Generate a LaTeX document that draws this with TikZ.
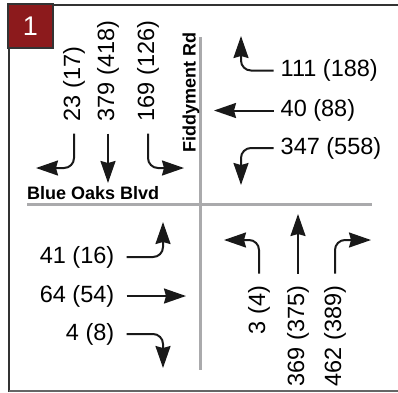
\documentclass[tikz,border=0pt]{standalone}
\usepackage{fontspec}
\setmainfont{Liberation Sans}
\usetikzlibrary{arrows.meta}
\definecolor{badgered}{RGB}{140,26,28}
\definecolor{framegray}{RGB}{51,51,51}
\definecolor{roadgray}{RGB}{170,170,172}

\begin{document}
\begin{tikzpicture}[x=1pt, y=-1pt,
	vol/.style={font=\fontsize{23.5}{25}\selectfont, inner sep=2pt},
	road/.style={font=\fontsize{18}{20}\selectfont\bfseries, inner sep=0pt},
	mv/.style={draw=black!90, line width=2pt, rounded corners=10pt, shorten <=10pt, -{Stealth[length=22pt, width=15pt, inset=2pt]}},
	curb/.style={draw=roadgray, line width=3pt}
	]
	\useasboundingbox (0,0) rectangle (398,392);
	% frame and badge
	\draw[framegray, line width=2.5pt] (53,5) -- (398,5);
	\draw[framegray, line width=2.5pt] (9,48) -- (9,392);
	\draw[black!60, line width=1.5pt] (9,391) -- (398,391);
	\node[fill=badgered, draw=framegray, line width=1.5pt, minimum width=45pt, minimum height=44pt, inner sep=0pt, text=white, font=\fontsize{27}{29}\selectfont] (badge) at (30.5,26) {1};
	% roads
	\draw[curb] (200,37) -- (200,370);
	\draw[curb] (27,204) -- (372,204);
	\node[road, rotate=90, anchor=east] (fiddyment) at (191,32) {Fiddyment Rd};
	\node[road, anchor=base west] (blueoaks) at (27,199) {Blue Oaks Blvd};
	% southbound
	\foreach \n/\x/\t in {23/74/{23 (17)}, 379/108/{379 (418)}, 169/148/{169 (126)}}
		\node[vol, rotate=90, anchor=west] (s\n) at (\x,123.5) {\t};
	\coordinate (s23tip) at (36,168);
	\coordinate (s379tip) at (108,183);
	\coordinate (s169tip) at (184,168);
	\draw[mv] (s23) |- (s23tip);
	\draw[mv] (s379) -- (s379tip);
	\draw[mv] (s169) |- (s169tip);
	% westbound
	\foreach \n/\y/\t in {111/70.5/{111 (188)}, 40/110.5/{40 (88)}, 347/148/{347 (558)}}
		\node[vol, anchor=west] (w\n) at (278.5,\y) {\t};
	\coordinate (w111tip) at (241,36);
	\coordinate (w40tip) at (214,110.5);
	\coordinate (w347tip) at (241,185);
	\draw[mv, shorten <=5pt] (w111) -| (w111tip);
	\draw[mv, shorten <=5pt] (w40) -- (w40tip);
	\draw[mv, shorten <=5pt] (w347) -| (w347tip);
	% eastbound
	\foreach \n/\y/\t in {41/257/{41 (16)}, 64/296/{64 (54)}, 4/334/{4 (8)}}
		\node[vol, anchor=east] (e\n) at (116.5,\y) {\t};
	\coordinate (e41tip) at (163,222);
	\coordinate (e64tip) at (186,296);
	\coordinate (e4tip) at (163,368);
	\draw[mv] (e41) -| (e41tip);
	\draw[mv] (e64) -- (e64tip);
	\draw[mv] (e4) -| (e4tip);
	% northbound
	\foreach \n/\x/\t in {3/259/{3 (4)}, 369/298/{369 (375)}, 462/335/{462 (389)}}
		\node[vol, rotate=90, anchor=east] (n\n) at (\x,283.5) {\t};
	\coordinate (n3tip) at (224,240);
	\coordinate (n369tip) at (298,214);
	\coordinate (n462tip) at (371,240);
	\draw[mv] (n3) |- (n3tip);
	\draw[mv] (n369) -- (n369tip);
	\draw[mv] (n462) |- (n462tip);
\end{tikzpicture}
\end{document}
